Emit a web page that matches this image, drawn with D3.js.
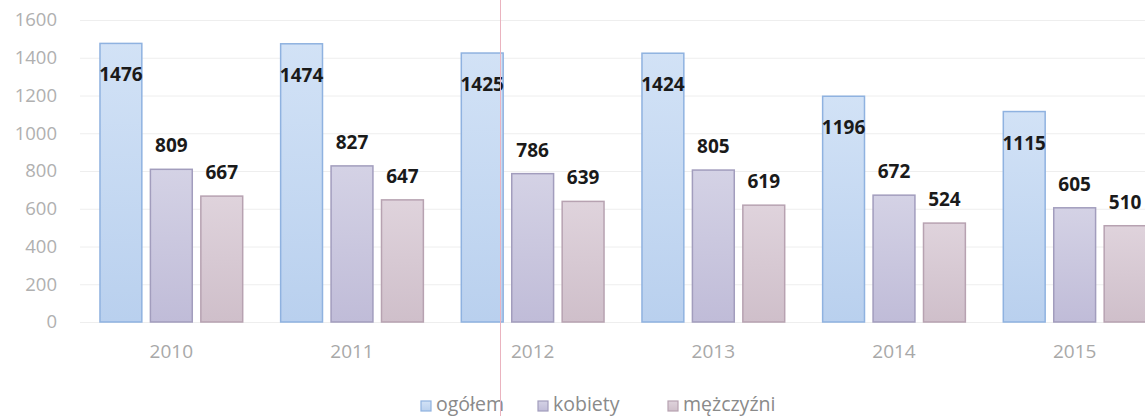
<!DOCTYPE html>
<html>
<head>
<meta charset="utf-8">
<script src="https://cdn.jsdelivr.net/npm/d3@7"></script>
<style>
  body { margin: 0; background: #fff; }
  svg { display: block; }
</style>
</head>
<body>
<div id="chart"></div>
<script>
// values
var years = ["2010", "2011", "2012", "2013", "2014", "2015"];
var ogolem = [1476, 1474, 1425, 1424, 1196, 1115];
var kobiety = [809, 827, 786, 805, 672, 605];
var mezczyzni = [667, 647, 639, 619, 524, 510];
var seriesNames = ["ogółem", "kobiety", "mężczyźni"];
var yTicks = [0, 200, 400, 600, 800, 1000, 1200, 1400, 1600];

var width = 1145, height = 416;

var series = [
    { name: seriesNames[0], values: ogolem, fillTop: "#d2e2f6", fillBot: "#b9d0ee", stroke: "#8fb2e0", inside: true },
    { name: seriesNames[1], values: kobiety, fillTop: "#d4d2e5", fillBot: "#c0bcd8", stroke: "#a29dbd", inside: false },
    { name: seriesNames[2], values: mezczyzni, fillTop: "#dfd3dc", fillBot: "#cfbfca", stroke: "#b7a2b1", inside: false }
];

var svg = d3.select("#chart").append("svg")
    .attr("width", width)
    .attr("height", height);

var defs = svg.append("defs");
series.forEach(function (s, i) {
    var g = defs.append("linearGradient")
        .attr("id", "grad" + i)
        .attr("x1", 0).attr("y1", 0).attr("x2", 0).attr("y2", 1);
    g.append("stop").attr("offset", "0%").attr("stop-color", s.fillTop);
    g.append("stop").attr("offset", "100%").attr("stop-color", s.fillBot);
});

var y = d3.scaleLinear().domain([0, 1600]).range([322, 20]);

var x0 = d3.scaleBand().domain(years).range([81, 1165]).paddingInner(0.21).paddingOuter(0.105);
var x1 = d3.scaleBand().domain(seriesNames).range([0, x0.bandwidth()]).paddingInner(0.17);

var font = "'Open Sans', 'Liberation Sans', sans-serif";

// gridlines
svg.append("g")
    .selectAll("line")
    .data(yTicks)
    .join("line")
    .attr("x1", 80)
    .attr("x2", width)
    .attr("y1", function (d) { return y(d) + 0.5; })
    .attr("y2", function (d) { return y(d) + 0.5; })
    .style("stroke", "#eeeeee")
    .style("stroke-width", 1);

// y axis labels
var yAxis = d3.axisLeft(y).tickValues(yTicks).tickFormat(d3.format("d")).tickSize(0).tickPadding(0);
svg.append("g")
    .attr("transform", "translate(57,0)")
    .call(yAxis)
    .call(function (g) { g.select(".domain").remove(); })
    .selectAll("text")
    .style("font-family", font)
    .style("font-size", "18.5px")
    .style("fill", "#b0b0b0");

// x axis labels
var xAxis = d3.axisBottom(x0).tickSize(0).tickPadding(0);
svg.append("g")
    .attr("transform", "translate(0,344)")
    .call(xAxis)
    .call(function (g) { g.select(".domain").remove(); })
    .selectAll("text")
    .style("font-family", font)
    .style("font-size", "19px")
    .style("fill", "#a8a8a8");

// bars
series.forEach(function (s, si) {
    var g = svg.append("g");
    g.selectAll("rect")
        .data(s.values)
        .join("rect")
        .attr("x", function (d, i) { return x0(years[i]) + x1(s.name); })
        .attr("y", function (d) { return y(d); })
        .attr("width", x1.bandwidth())
        .attr("height", function (d) { return y(0) - y(d); })
        .style("fill", "url(#grad" + si + ")")
        .style("stroke", s.stroke)
        .style("stroke-width", 1.5);

    g.selectAll("text")
        .data(s.values)
        .join("text")
        .attr("x", function (d, i) { return x0(years[i]) + x1(s.name) + x1.bandwidth() / 2; })
        .attr("y", function (d) { return s.inside ? y(d) + 38 : y(d) - 17; })
        .attr("text-anchor", "middle")
        .style("font-family", font)
        .style("font-weight", "bold")
        .style("font-size", "19px")
        .style("fill", "#1a1a1a")
        .text(function (d) { return d; });
});

// legend
var legendX = [421, 538, 668];
var legend = svg.append("g").selectAll("g")
    .data(series)
    .join("g")
    .attr("transform", function (d, i) { return "translate(" + legendX[i] + ",401)"; });

legend.append("rect")
    .attr("width", 10)
    .attr("height", 10)
    .style("fill", function (d, i) { return "url(#grad" + i + ")"; })
    .style("stroke", function (d) { return d.stroke; })
    .style("stroke-width", 1.2);

legend.append("text")
    .attr("x", 15)
    .attr("y", 9.5)
    .style("font-family", font)
    .style("font-size", "19.5px")
    .style("fill", "#8a8a8a")
    .text(function (d) { return d.name; });

// thin pink scan line crossing the page
svg.append("line")
    .attr("x1", 500.5).attr("x2", 500.5)
    .attr("y1", 0).attr("y2", height)
    .style("stroke", "#eab3bf")
    .style("stroke-width", 1);
</script>
</body>
</html>
